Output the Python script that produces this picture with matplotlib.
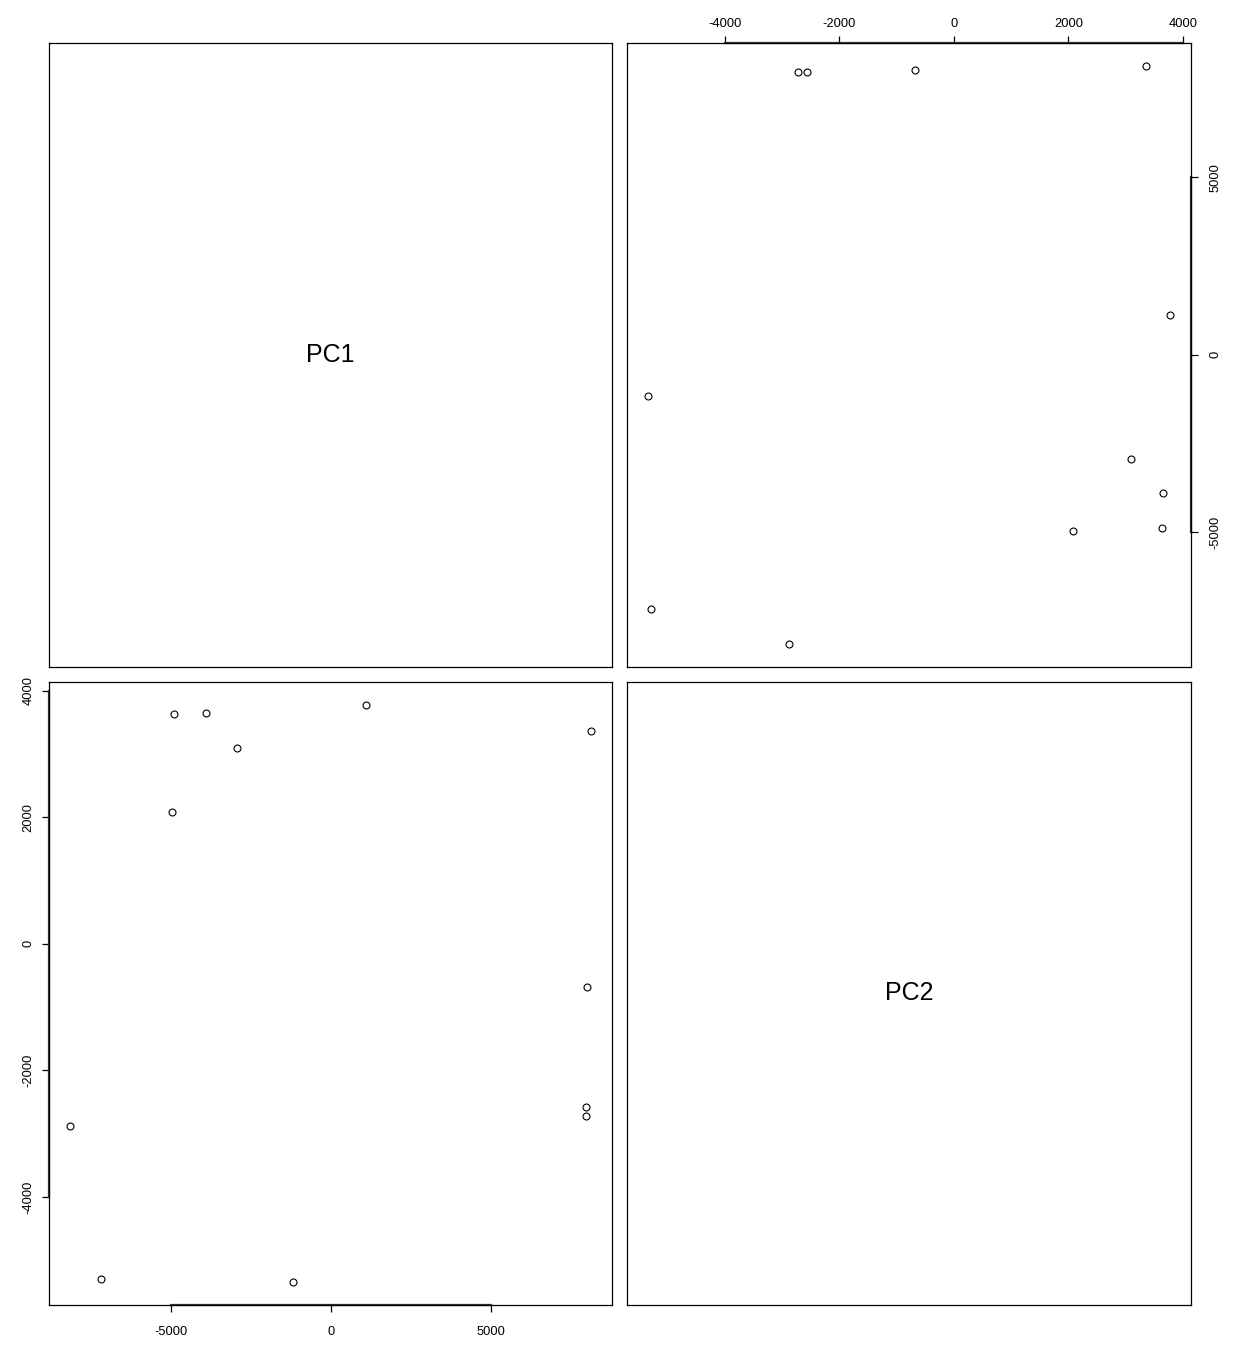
import matplotlib
matplotlib.use("Agg")
import matplotlib.pyplot as plt

plt.rcParams['font.family'] = ['Liberation Sans', 'DejaVu Sans']
plt.rcParams['axes.unicode_minus'] = False

# principal component scores
pc1 = [-4890, -3900, -2930, -4960, 1110, 8130, 8010, 7960, 7960, -8150, -7180, -1170]
pc2 = [3630, 3645, 3095, 2083, 3775, 3360, -680, -2575, -2720, -2880, -5295, -5345]

pc1_ticks = [-5000, 0, 5000]
pc2_ticks = [-4000, -2000, 0, 2000, 4000]
names = ["PC1", "PC2"]

W, H = 1235, 1347
fig = plt.figure(figsize=(W / 100, H / 100), dpi=100)


def box(x0, y0, x1, y1):
    # pixel box -> figure fraction rect
    return [x0 / W, 1 - y1 / H, (x1 - x0) / W, (y1 - y0) / H]


def lims(v):
    lo, hi = min(v), max(v)
    d = (hi - lo) * 0.04
    return lo - d, hi + d


cols = [(49, 612), (627, 1191)]
rows = [(43, 667), (682, 1305)]
data = [pc1, pc2]
ticks = [pc1_ticks, pc2_ticks]

for i in range(2):
    for j in range(2):
        x0, x1 = cols[j]
        y0, y1 = rows[i]
        ax = fig.add_axes(box(x0, y0, x1, y1))
        for s in ax.spines.values():
            s.set_linewidth(0.9)
        ax.tick_params(length=5, width=0.9, labelsize=9.3, direction='out')
        if i == j:
            ax.set_xlim(0, 1)
            ax.set_ylim(0, 1)
            ax.set_xticks([])
            ax.set_yticks([])
            ax.text(0.5, 0.5, names[i], ha='center', va='center', fontsize=18)
            continue
        xv, yv = data[j], data[i]
        ax.plot(xv, yv, 'o', mfc='none', mec='black', ms=5, mew=0.8)
        ax.set_xlim(*lims(xv))
        ax.set_ylim(*lims(yv))
        ax.set_xticks(ticks[j])
        ax.set_yticks(ticks[i])
        xl, yl = ax.get_xlim(), ax.get_ylim()
        if i == 1:
            # bottom-left: axes on bottom and left
            ax.tick_params(axis='x', pad=10)
            ax.tick_params(axis='y', pad=5.5)
            for t in ax.get_yticklabels():
                t.set_rotation(90)
                t.set_va('center')
            ax.plot([ticks[j][0], ticks[j][-1]], [yl[0], yl[0]], color='#333333', lw=1.6, clip_on=False)
            ax.plot([xl[0], xl[0]], [ticks[i][0], ticks[i][-1]], color='#333333', lw=1.6, clip_on=False)
        else:
            # top-right: axes on top and right
            ax.xaxis.tick_top()
            ax.yaxis.tick_right()
            ax.tick_params(axis='x', pad=4.5)
            ax.tick_params(axis='y', pad=8)
            for t in ax.get_yticklabels():
                t.set_rotation(90)
                t.set_va('center')
            ax.plot([ticks[j][0], ticks[j][-1]], [yl[1], yl[1]], color='#333333', lw=1.6, clip_on=False)
            ax.plot([xl[1], xl[1]], [ticks[i][0], ticks[i][-1]], color='#333333', lw=1.6, clip_on=False)
        ax.set_xlim(*xl)
        ax.set_ylim(*yl)

fig.savefig("out.png", dpi=100, facecolor='white')
